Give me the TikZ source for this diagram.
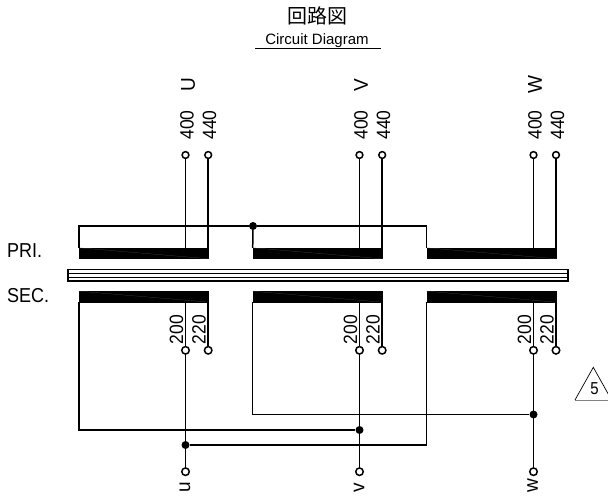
\documentclass[tikz,border=0pt]{standalone}
\usepackage{fontspec}
\setmainfont{Liberation Sans}
\newfontfamily\cjk{Noto Sans CJK JP}
\tikzset{
	coil/.style={draw=black, fill=black, line width=0.6pt, minimum width=129pt, minimum height=10.4pt, inner sep=0pt},
	coilline/.style={line width=0.2pt, color=black!70},
	terminal/.style={circle, draw=black, fill=white, line width=1.5pt, minimum size=7.5pt, inner sep=0pt},
	topterminal/.style={terminal, minimum size=6.8pt},
	junction/.style={circle, fill=black, minimum size=8pt, inner sep=0pt},
	wire/.style={line width=1.5pt, color=black},
	coreline/.style={line width=1.2pt, color=black},
	tap/.style={rotate=90, transform shape, yscale=1.1, font=\fontsize{17.5}{17.5}\selectfont, inner sep=0pt},
	phase/.style={rotate=90, transform shape, yscale=1.05, font=\fontsize{19}{19}\selectfont, inner sep=0pt},
	outphase/.style={phase, anchor=west},
	side/.style={anchor=west, transform shape, yscale=1.12, font=\fontsize{18}{18}\selectfont, inner sep=0pt}
}

\begin{document}
\begin{tikzpicture}[x=1pt, y=-1pt]
			%%%%% START %%%%%
			\useasboundingbox (0, 0) rectangle (608, 497);

			\node[font=\cjk\fontsize{20}{20}\selectfont] (title) at (317.5, 16) {回路図};
			\node[font=\fontsize{15}{15}\selectfont] (subtitle) at (317, 41) {Circuit Diagram};
			\coordinate (ruleL) at (255, 48.5);
			\coordinate (ruleR) at (381, 48.5);
			\draw[line width=1.1pt] (ruleL) -- (ruleR);

			\node[side] (pri) at (7, 251) {PRI.};
			\node[side] (sec) at (7, 296) {SEC.};

			% primary coils
			\node[coil] (pa) at (144, 253.3) {};
			\node[coil] (pb) at (317.5, 253.3) {};
			\node[coil] (pc) at (491.5, 253.3) {};
			\draw[coilline] (pa.north west) -- (pa.south east);
			\draw[coilline] (pb.north west) -- (pb.south east);
			\draw[coilline] (pc.north west) -- (pc.south east);

			% core
			\draw[coreline] (68, 269.5) rectangle (568, 281);
			\draw[coreline] (68, 273.3) -- (568, 273.3);
			\draw[coreline] (68, 277.2) -- (568, 277.2);

			% secondary coils
			\node[coil] (sa) at (144, 296.7) {};
			\node[coil] (sb) at (317.5, 296.7) {};
			\node[coil] (sc) at (491.5, 296.7) {};
			\draw[coilline] (sa.north west) -- (sa.south east);
			\draw[coilline] (sb.north west) -- (sb.south east);
			\draw[coilline] (sc.north west) -- (sc.south east);

			% primary terminals
			\node[topterminal] (pa4) at (185.5, 155) {};
			\node[topterminal] (pa8) at (208.2, 155) {};
			\node[topterminal] (pb4) at (359.5, 155) {};
			\node[topterminal] (pb8) at (382.2, 155) {};
			\node[topterminal] (pc4) at (533.5, 155) {};
			\node[topterminal] (pc8) at (556, 155) {};

			\node[tap] (lpa4) at (187, 125) {400};
			\node[tap] (lpa8) at (209.5, 125) {440};
			\node[tap] (lpb4) at (361, 125) {400};
			\node[tap] (lpb8) at (383.5, 125) {440};
			\node[tap] (lpc4) at (535, 125) {400};
			\node[tap] (lpc8) at (557.5, 125) {440};

			\node[phase] (U) at (188, 85) {U};
			\node[phase] (V) at (361, 85) {V};
			\node[phase] (W) at (535, 85) {W};

			\draw[wire] (pa4) -- (pa4 |- pa.north);
			\draw[wire] (pa8) -- (pa8 |- pa.north);
			\draw[wire] (pb4) -- (pb4 |- pb.north);
			\draw[wire] (pb8) -- (pb8 |- pb.north);
			\draw[wire] (pc4) -- (pc4 |- pc.north);
			\draw[wire] (pc8) -- (pc8 |- pc.north);

			% primary star
			\node[junction] (star) at (253, 226) {};
			\draw[wire] (pa.north west) |- (star);
			\draw[wire] (star) -| (pc.north west);
			\draw[wire] (star) -- (pb.north west);

			% secondary terminals
			\node[terminal] (sa2) at (185.5, 350.3) {};
			\node[terminal] (sa4) at (208.2, 350.3) {};
			\node[terminal] (sb2) at (359.5, 350.3) {};
			\node[terminal] (sb4) at (382.2, 350.3) {};
			\node[terminal] (sc2) at (533.5, 350.3) {};
			\node[terminal] (sc4) at (556, 350.3) {};

			\node[tap] (lsa2) at (176.5, 329.5) {200};
			\node[tap] (lsa4) at (199, 329.5) {220};
			\node[tap] (lsb2) at (350.5, 329.5) {200};
			\node[tap] (lsb4) at (373, 329.5) {220};
			\node[tap] (lsc2) at (524.5, 329.5) {200};
			\node[tap] (lsc4) at (547, 329.5) {220};

			\draw[wire] (sa.south -| sa4) -- (sa4);
			\draw[wire] (sb.south -| sb4) -- (sb4);
			\draw[wire] (sc.south -| sc4) -- (sc4);

			% output terminals
			\node[terminal] (u) at (185.5, 471.7) {};
			\node[terminal] (v) at (359.5, 471.7) {};
			\node[terminal] (w) at (533.5, 471.7) {};

			\node[outphase] (lu) at (185, 492.5) {u};
			\node[outphase] (lv) at (359, 492.5) {v};
			\node[outphase] (lw) at (532.5, 492.5) {w};

			\node[junction] (ju) at (185.5, 445) {};
			\node[junction] (jv) at (359.5, 430) {};
			\node[junction] (jw) at (533.5, 414.5) {};

			\draw[wire] (sa.south -| u) -- (sa2);
			\draw[wire] (sb.south -| v) -- (sb2);
			\draw[wire] (sc.south -| w) -- (sc2);
			\draw[wire] (sa2) -- (u);
			\draw[wire] (sb2) -- (v);
			\draw[wire] (sc2) -- (w);

			% delta links
			\draw[wire] (sa.south west) |- (jv);
			\draw[wire] (sb.south west) |- (jw);
			\draw[wire] (sc.south west) |- (ju);

			% revision mark
			\coordinate (markT) at (593.3, 367.3);
			\coordinate (markL) at (575, 400);
			\coordinate (markR) at (611.6, 400);
			\draw[line width=0.7pt] (markL) -- (markT) -- (markR);
			\draw[line width=1pt, color=black!50] (markL) -- (markR);
			\node[transform shape, yscale=1.15, font=\fontsize{15}{15}\selectfont, inner sep=0pt] (rev) at (594.5, 388.5) {5};
			%%%%% END %%%%%
		\end{tikzpicture}
\end{document}
